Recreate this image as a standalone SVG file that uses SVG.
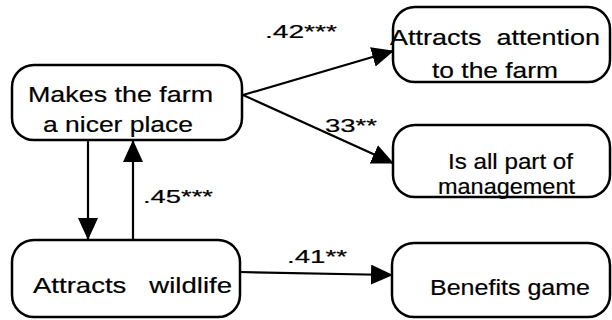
<svg xmlns="http://www.w3.org/2000/svg" width="612" height="320" viewBox="0 0 612 320">
  <style>
    .box { fill: #fff; stroke: #000; stroke-width: 2.5; }
    .lbl { font-family: "Liberation Sans", Arial, sans-serif; font-size: 22px; fill: #000; stroke: #000; stroke-width: 0.2; }
    .coef { font-family: "Liberation Sans", Arial, sans-serif; font-size: 19px; fill: #000; stroke: #000; stroke-width: 0.2; }
    .edge { fill: none; stroke: #000; stroke-width: 2.2; marker-end: url(#head); }
  </style>
  <defs>
    <marker id="head" markerUnits="userSpaceOnUse" markerWidth="22" markerHeight="20" refX="21" refY="10" orient="auto">
      <path d="M0,0 L22,10 L0,20 z" fill="#000"/>
    </marker>
  </defs>
  <rect width="612" height="320" fill="#fff"/>

  <g id="connectors">
    <path class="edge" d="M243,95 L393,51"/>
    <path class="edge" d="M243,95 L393,163"/>
    <path class="edge" d="M88,141 L88,239"/>
    <path class="edge" d="M133,239 L133,141"/>
    <path class="edge" d="M240,272 L392,275"/>
    <text class="coef" x="265" y="38" textLength="72" lengthAdjust="spacingAndGlyphs">.42***</text>
    <text class="coef" x="325" y="132" textLength="52" lengthAdjust="spacingAndGlyphs">33**</text>
    <text class="coef" x="143" y="203" textLength="70" lengthAdjust="spacingAndGlyphs">.45***</text>
    <text class="coef" x="287" y="263" textLength="60" lengthAdjust="spacingAndGlyphs">.41**</text>
  </g>

  <g id="nicer-place">
    <rect class="box" x="12" y="65" width="230" height="75" rx="22"/>
    <text class="lbl" x="28" y="102" textLength="185" lengthAdjust="spacingAndGlyphs">Makes the farm</text>
    <text class="lbl" x="43" y="132" textLength="150" lengthAdjust="spacingAndGlyphs">a nicer place</text>
  </g>

  <g id="wildlife">
    <rect class="box" x="12" y="240" width="228" height="77" rx="22"/>
    <text class="lbl" x="33" y="293" textLength="199" lengthAdjust="spacingAndGlyphs" xml:space="preserve">Attracts   wildlife</text>
  </g>

  <g id="attention">
    <rect class="box" x="393" y="7" width="217" height="75" rx="22"/>
    <text class="lbl" x="390" y="45" textLength="210" lengthAdjust="spacingAndGlyphs" xml:space="preserve">Attracts  attention</text>
    <text class="lbl" x="432" y="78" textLength="126" lengthAdjust="spacingAndGlyphs">to the farm</text>
  </g>

  <g id="management">
    <rect class="box" x="393" y="125" width="217" height="72" rx="22"/>
    <text class="lbl" x="448" y="169" textLength="125" lengthAdjust="spacingAndGlyphs">Is all part of</text>
    <text class="lbl" x="438" y="194" textLength="137" lengthAdjust="spacingAndGlyphs">management</text>
  </g>

  <g id="game">
    <rect class="box" x="392" y="243" width="218" height="74" rx="22"/>
    <text class="lbl" x="430" y="295" textLength="160" lengthAdjust="spacingAndGlyphs">Benefits game</text>
  </g>
</svg>
